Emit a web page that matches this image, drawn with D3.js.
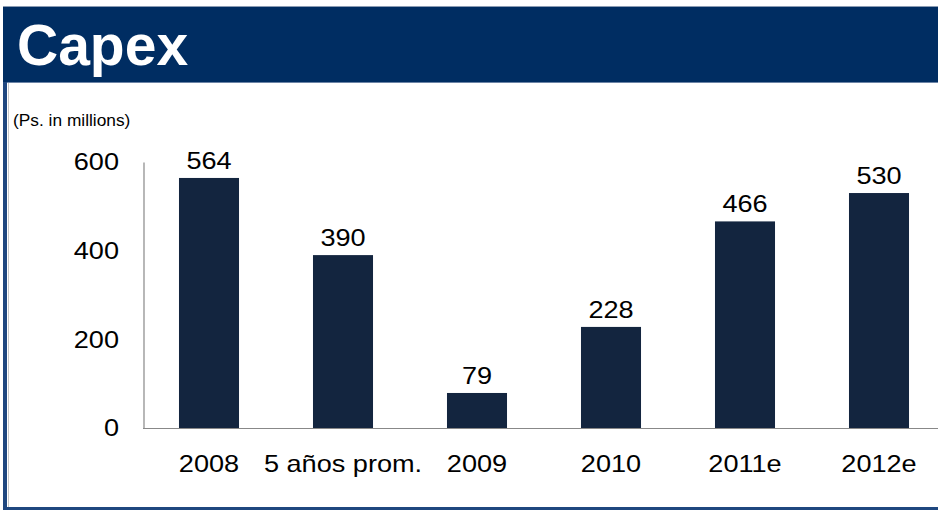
<!DOCTYPE html>
<html>
<head>
<meta charset="utf-8">
<script src="https://cdn.jsdelivr.net/npm/d3@7"></script>
<style>
  html, body { margin: 0; padding: 0; background: #ffffff; }
  svg { display: block; }
</style>
</head>
<body>
<svg id="chart" width="938" height="510"></svg>
<script>
// Capital expenditure, Ps. millions
const categories = ["2008", "5 años prom.", "2009", "2010", "2011e", "2012e"];
const capex = [564, 390, 79, 228, 466, 530];
const yTicks = [0, 200, 400, 600];

const svg = d3.select("#chart");
const W = 938, H = 510;
const font = "'Liberation Sans', Arial, sans-serif";
const sx = 1.13; // slightly wide lettering for chart labels

// Title band
svg.append("rect").attr("x", 3).attr("y", 6).attr("width", W - 3).attr("height", 76)
  .attr("fill", "#002d62");
svg.append("line").attr("x1", 3).attr("x2", W).attr("y1", 6.5).attr("y2", 6.5)
  .attr("stroke", "#8a9bb3").attr("stroke-width", 1);
svg.append("line").attr("x1", 3).attr("x2", W).attr("y1", 82.5).attr("y2", 82.5)
  .attr("stroke", "#6c84a6").attr("stroke-width", 1);
svg.append("text").attr("x", 17).attr("y", 65)
  .attr("font-family", font).attr("font-weight", "bold").attr("font-size", 57)
  .attr("fill", "#ffffff").text("Capex");

// Panel frame: left double rule and bottom rule
svg.append("rect").attr("x", 3).attr("y", 82).attr("width", 4).attr("height", H - 82)
  .attr("fill", "#1f477f");
svg.append("line").attr("x1", 8.5).attr("x2", 8.5).attr("y1", 83).attr("y2", H)
  .attr("stroke", "#c8c8c8").attr("stroke-width", 1);
svg.append("rect").attr("x", 3).attr("y", 507).attr("width", W - 3).attr("height", 3)
  .attr("fill", "#1f477f");

// Unit note
svg.append("text").attr("transform", "translate(13,125.5) scale(1.05,1)")
  .attr("font-family", font).attr("font-size", 16.5).attr("fill", "#000")
  .text("(Ps. in millions)");

// Scales
const y = d3.scaleLinear().domain([0, 600]).range([428, 162]);
const x = d3.scaleBand().domain(categories).range([142, 946]).paddingInner(0.552).paddingOuter(0.276);

// Y axis
const yAxis = d3.axisLeft(y).tickValues(yTicks).tickSize(0).tickPadding(24);
const gy = svg.append("g").attr("transform", "translate(143.5,0)").call(yAxis);
gy.select(".domain").attr("stroke", "#888888").attr("stroke-width", 1.2);
gy.selectAll("text").attr("font-family", font).attr("font-size", 24).attr("fill", "#000")
  .attr("x", -24.5 / sx).attr("transform", `scale(${sx},1)`);

// Bars
svg.append("g").selectAll("rect").data(capex).join("rect")
  .attr("x", (d, i) => x(categories[i]))
  .attr("y", d => y(d))
  .attr("width", x.bandwidth())
  .attr("height", d => y(0) - y(d))
  .attr("fill", "#13253f");

// X axis
const xAxis = d3.axisBottom(x).tickSize(0).tickPadding(26.5);
const gx = svg.append("g").attr("transform", "translate(0,428.5)").call(xAxis);
gx.select(".domain").attr("d", "M143,0H" + W).attr("stroke", "#888888").attr("stroke-width", 1.2);
gx.selectAll("text").attr("font-family", font).attr("font-size", 24).attr("fill", "#000")
  .attr("transform", `scale(${sx},1)`);

// Value labels
svg.append("g").selectAll("text").data(capex).join("text")
  .attr("transform", (d, i) => `translate(${x(categories[i]) + x.bandwidth() / 2},${y(d) - 9}) scale(${sx},1)`)
  .attr("text-anchor", "middle")
  .attr("font-family", font).attr("font-size", 24).attr("fill", "#000")
  .text(d => d);
</script>
</body>
</html>
